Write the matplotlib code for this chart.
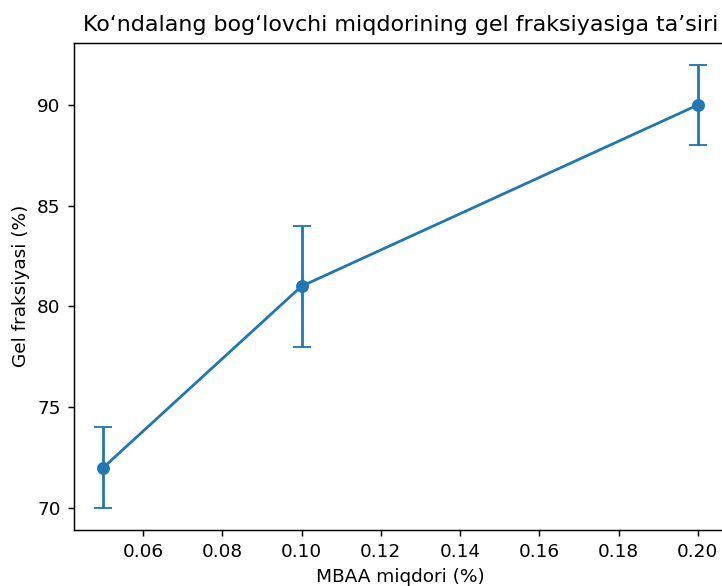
import matplotlib
matplotlib.use("Agg")
import matplotlib.pyplot as plt

# --------- DATOS ---------
mbaa_miqdori = [0.05, 0.10, 0.20]
gel_fraksiyasi = [72, 81, 90]
xatolik = [2, 3, 2]

# --------- FIGURA ---------
dpi = 133
fig = plt.figure(figsize=(722 / dpi, 586 / dpi), dpi=dpi)
# the reference is cropped on the right, so the axes run past the figure edge
ax = fig.add_axes([73.6 / 722, 56 / 586, 654 / 722, 487.5 / 586])

ax.errorbar(mbaa_miqdori, gel_fraksiyasi, yerr=xatolik, fmt='-o', capsize=5, color='#1f77b4')

ax.set_title("Ko‘ndalang bog‘lovchi miqdorining gel fraksiyasiga ta’siri")
ax.set_xlabel("MBAA miqdori (%)")
ax.set_ylabel("Gel fraksiyasi (%)")

fig.savefig("out.png", dpi=dpi)
